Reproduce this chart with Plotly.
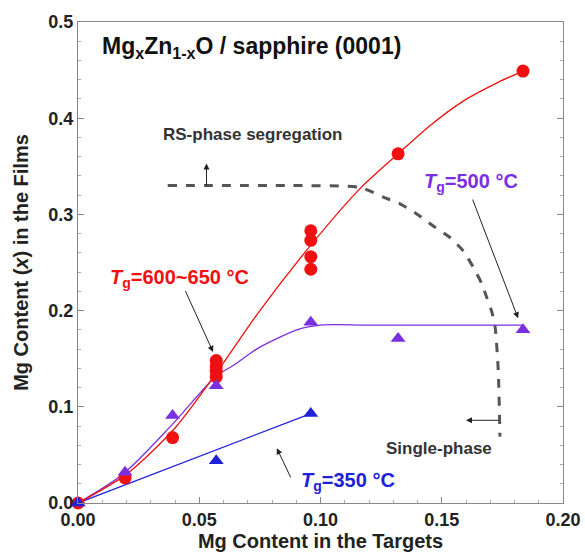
import plotly.graph_objects as go

# ---- data ----
red_x = [0.0, 0.0194, 0.039, 0.057, 0.057, 0.057, 0.057, 0.096, 0.096, 0.096, 0.096, 0.132, 0.1835]
red_y = [0.0, 0.026, 0.068, 0.148, 0.142, 0.137, 0.131, 0.283, 0.273, 0.256, 0.243, 0.363, 0.449]

pur_x = [0.0, 0.0194, 0.039, 0.057, 0.096, 0.132, 0.1835]
pur_y = [0.0, 0.032, 0.091, 0.122, 0.188, 0.171, 0.180]

blu_x = [0.0, 0.057, 0.096]
blu_y = [0.0, 0.044, 0.093]

# guide-to-the-eye curves
red_cx = [0.0, 0.02, 0.04, 0.057, 0.075, 0.096, 0.116, 0.132, 0.145, 0.159, 0.173, 0.1835]
red_cy = [0.0, 0.030, 0.078, 0.135, 0.200, 0.268, 0.326, 0.363, 0.392, 0.418, 0.437, 0.449]

pur_cx = [0.0, 0.019, 0.039, 0.057, 0.064, 0.075, 0.0915, 0.1, 0.12, 0.1835]
pur_cy = [0.0, 0.031, 0.082, 0.132, 0.143, 0.162, 0.181, 0.185, 0.185, 0.185]

blu_cx = [0.0, 0.096]
blu_cy = [0.0, 0.093]

dash_x = [0.037, 0.0878, 0.1163, 0.1259, 0.1328, 0.1397, 0.1465, 0.1534, 0.1589, 0.163,
          0.1665, 0.1685, 0.1705, 0.172, 0.1733, 0.174]
dash_y = [0.330, 0.330, 0.328, 0.318, 0.311, 0.3005, 0.288, 0.276, 0.262, 0.245,
          0.228, 0.214, 0.200, 0.183, 0.138, 0.069]

RED = "#f01010"
PUR = "#7a2fe0"
BLU = "#2020d8"
FONT = "Liberation Sans"

fig = go.Figure()

fig.add_trace(go.Scatter(x=dash_x, y=dash_y, mode="lines", line_shape="spline",
                         line=dict(color="#555555", width=3, dash="dash", smoothing=0.6),
                         hoverinfo="skip", showlegend=False))
fig.add_trace(go.Scatter(x=blu_cx, y=blu_cy, mode="lines",
                         line=dict(color=BLU, width=1.3), showlegend=False))
fig.add_trace(go.Scatter(x=pur_cx, y=pur_cy, mode="lines", line_shape="spline",
                         line=dict(color=PUR, width=1.3, smoothing=0.8), showlegend=False))
fig.add_trace(go.Scatter(x=red_cx, y=red_cy, mode="lines", line_shape="spline",
                         line=dict(color=RED, width=1.3, smoothing=0.8), showlegend=False))

fig.add_trace(go.Scatter(x=red_x, y=red_y, mode="markers", cliponaxis=False,
                         marker=dict(symbol="circle", size=13, color=RED), showlegend=False))
fig.add_trace(go.Scatter(x=pur_x, y=pur_y, mode="markers", cliponaxis=False,
                         marker=dict(symbol="triangle-up", size=13, color=PUR), showlegend=False))
fig.add_trace(go.Scatter(x=blu_x, y=blu_y, mode="markers", cliponaxis=False,
                         marker=dict(symbol="triangle-up", size=13, color=BLU), showlegend=False))

ann = []
ann.append(dict(x=0.009, y=0.473, xref="x", yref="y", xanchor="left", yanchor="middle",
                text="<b>Mg<sub>x</sub>Zn<sub>1-x</sub>O / sapphire (0001)</b>", showarrow=False,
                font=dict(family=FONT, size=23, color="#111111")))
ann.append(dict(x=0.072, y=0.383, xref="x", yref="y", text="<b>RS-phase segregation</b>",
                showarrow=False, font=dict(family=FONT, size=17, color="#333333")))
ann.append(dict(x=0.149, y=0.057, xref="x", yref="y", text="<b>Single-phase</b>",
                showarrow=False, font=dict(family=FONT, size=17, color="#333333")))
ann.append(dict(x=0.0125, y=0.233, xref="x", yref="y", xanchor="left",
                text="<b><i>T</i><sub>g</sub>=600~650 °C</b>", showarrow=False,
                font=dict(family=FONT, size=20, color=RED)))
ann.append(dict(x=0.142, y=0.333, xref="x", yref="y", xanchor="left",
                text="<b><i>T</i><sub>g</sub>=500 °C</b>", showarrow=False,
                font=dict(family=FONT, size=20, color=PUR)))
ann.append(dict(x=0.091, y=0.022, xref="x", yref="y", xanchor="left",
                text="<b><i>T</i><sub>g</sub>=350 °C</b>", showarrow=False,
                font=dict(family=FONT, size=20, color=BLU)))

arrows = [
    (0.053, 0.353, 0.053, 0.328),
    (0.160, 0.086, 0.174, 0.086),
    (0.0557, 0.157, 0.044, 0.222),
    (0.1815, 0.192, 0.1625, 0.317),
    (0.082, 0.057, 0.088, 0.025),
]
for hx, hy, tx, ty in arrows:
    ann.append(dict(x=hx, y=hy, ax=tx, ay=ty, xref="x", yref="y", axref="x", ayref="y",
                    text="", showarrow=True, arrowhead=2, arrowsize=1.2, arrowwidth=1,
                    arrowcolor="#222222"))

fig.update_layout(
    width=585, height=556,
    margin=dict(l=78, r=22, t=22, b=53, autoexpand=False),
    plot_bgcolor="white", paper_bgcolor="white",
    annotations=ann,
    font=dict(family=FONT),
)
fig.update_xaxes(range=[0, 0.2], tickvals=[0, 0.05, 0.1, 0.15, 0.2],
                 ticktext=["0.00", "0.05", "0.10", "0.15", "0.20"],
                 ticks="inside", ticklen=6, tickcolor="#888888", automargin=False,
                 minor=dict(dtick=0.01, ticks="inside", ticklen=3, tickcolor="#aaaaaa"),
                 showline=True, linecolor="#888888", linewidth=1, mirror=True,
                 showgrid=False, zeroline=False,
                 tickfont=dict(family=FONT, size=18, color="#222222", weight="bold"),
                 title=dict(text="<b>Mg Content in the Targets</b>", standoff=5,
                            font=dict(family=FONT, size=20, color="#222222")))
fig.update_yaxes(range=[0, 0.5], tickvals=[0, 0.1, 0.2, 0.3, 0.4, 0.5],
                 ticktext=["0.0", "0.1", "0.2", "0.3", "0.4", "0.5"],
                 ticks="inside", ticklen=6, tickcolor="#888888", automargin=False,
                 minor=dict(dtick=0.02, ticks="inside", ticklen=3, tickcolor="#aaaaaa"),
                 showline=True, linecolor="#888888", linewidth=1, mirror="ticks",
                 showgrid=False, zeroline=False,
                 tickfont=dict(family=FONT, size=18, color="#222222", weight="bold"),
                 title=dict(text="<b>Mg Content (<i>x</i>) in the Films</b>", standoff=14,
                            font=dict(family=FONT, size=20, color="#222222")))

fig.write_html("out.html")
